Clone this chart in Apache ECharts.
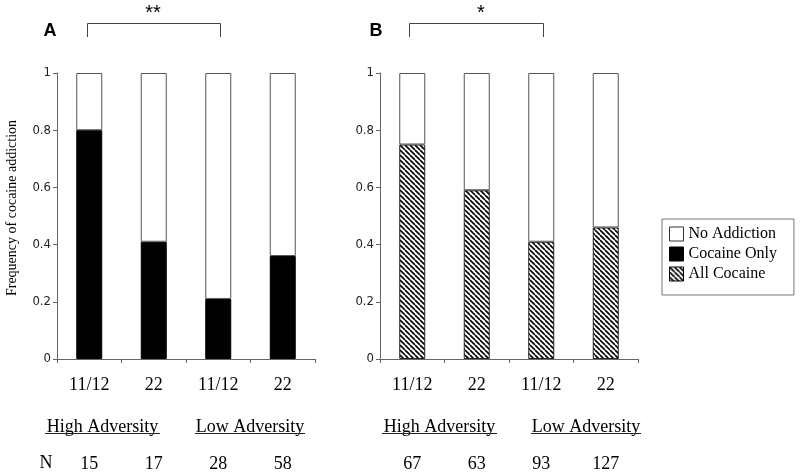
<!DOCTYPE html>
<html>
<head>
<meta charset="utf-8">
<script src="https://cdn.jsdelivr.net/npm/echarts@6/dist/echarts.min.js"></script>
<style>
html,body{margin:0;padding:0;background:#fff;}
#chart{width:800px;height:473px;}
</style>
</head>
<body>
<div id="chart"></div>
<script>
// ---- data ----
var categories = ['11/12', '22', '11/12', '22'];
var cocaineOnly = [0.80, 0.41, 0.21, 0.36];
var noAddictionA = [0.20, 0.59, 0.79, 0.64];
var allCocaine = [0.75, 0.59, 0.41, 0.46];
var noAddictionB = [0.25, 0.41, 0.59, 0.54];
var nA = ['15', '17', '28', '58'];
var nB = ['67', '63', '93', '127'];
var yTicks = [0, 0.2, 0.4, 0.6, 0.8, 1];

// hatch pattern
var s = 5;
var cv = document.createElement('canvas');
cv.width = s; cv.height = s;
var cx = cv.getContext('2d');
cx.fillStyle = '#fff';
cx.fillRect(0, 0, s, s);
cx.strokeStyle = '#000';
cx.lineWidth = 1.6;
for (var k = -1; k <= 1; k++) {
  cx.beginPath();
  cx.moveTo(k * s, 0);
  cx.lineTo(k * s + s, s);
  cx.stroke();
}
var hatch = { image: cv, repeat: 'repeat' };

var serif = "'Liberation Serif', 'Times New Roman', serif";
var narrow = "'Liberation Sans Narrow', 'DejaVu Sans Condensed', 'Liberation Sans', sans-serif";
var axisGray = '#666';
var barBorder = '#555';

function xCat(gi) {
  return {
    type: 'category', gridIndex: gi, data: categories, boundaryGap: true,
    axisLine: { lineStyle: { color: axisGray, width: 1 } },
    axisTick: { show: true, length: 4, lineStyle: { color: axisGray } },
    axisLabel: { color: '#000', fontFamily: serif, fontSize: 18, margin: 17 }
  };
}
function xN(gi, arr) {
  return {
    type: 'category', gridIndex: gi, data: arr, position: 'bottom', offset: 96,
    axisLine: { show: false }, axisTick: { show: false },
    axisLabel: { color: '#000', fontFamily: serif, fontSize: 18, margin: 0 }
  };
}
function yAx(gi) {
  return {
    type: 'value', gridIndex: gi, min: 0, max: 1, interval: 0.2,
    splitLine: { show: false },
    axisLine: { show: true, lineStyle: { color: axisGray, width: 1 } },
    axisTick: { show: true, length: 4, lineStyle: { color: axisGray } },
    axisLabel: {
      color: '#222', fontFamily: narrow, fontSize: 13, margin: 6,
      formatter: function (v) { return yTicks.indexOf(v) >= 0 ? String(v) : ''; }
    }
  };
}

var option = {
  animation: false,
  backgroundColor: '#fff',
  grid: [
    { left: 57, top: 73, width: 258, height: 286 },
    { left: 380, top: 73, width: 258, height: 286 }
  ],
  xAxis: [xCat(0), xCat(1), xN(0, nA), xN(1, nB)],
  yAxis: [yAx(0), yAx(1)],
  legend: {
    orient: 'vertical', left: 662, top: 219,
    icon: 'rect', itemWidth: 14, itemHeight: 14, itemGap: 4, itemTextGap: 6,
    padding: [7, 17, 13, 7],
    borderColor: '#777', borderWidth: 1, backgroundColor: '#fff',
    selectedMode: false,
    textStyle: { color: '#000', fontFamily: serif, fontSize: 16 },
    data: [
      { name: 'No Addiction', itemStyle: { color: '#fff', borderColor: '#333', borderWidth: 1 } },
      { name: 'Cocaine Only', itemStyle: { color: '#000', borderColor: '#000', borderWidth: 1 } },
      { name: 'All Cocaine', itemStyle: { color: hatch, borderColor: '#000', borderWidth: 1 } }
    ]
  },
  series: [
    {
      name: 'Cocaine Only', type: 'bar', xAxisIndex: 0, yAxisIndex: 0, stack: 'a',
      barWidth: 26, data: cocaineOnly,
      itemStyle: { color: '#000', borderColor: '#000', borderWidth: 1 }
    },
    {
      name: 'No Addiction', type: 'bar', xAxisIndex: 0, yAxisIndex: 0, stack: 'a',
      barWidth: 26, data: noAddictionA,
      itemStyle: { color: '#fff', borderColor: barBorder, borderWidth: 1 }
    },
    {
      name: 'All Cocaine', type: 'bar', xAxisIndex: 1, yAxisIndex: 1, stack: 'b',
      barWidth: 26, data: allCocaine,
      itemStyle: { color: hatch, borderColor: '#222', borderWidth: 1 }
    },
    {
      name: 'No Addiction', type: 'bar', xAxisIndex: 1, yAxisIndex: 1, stack: 'b',
      barWidth: 26, data: noAddictionB,
      itemStyle: { color: '#fff', borderColor: barBorder, borderWidth: 1 }
    }
  ],
  graphic: [
    { type: 'text', x: 12, y: 208, rotation: Math.PI / 2,
      style: { text: 'Frequency of cocaine addiction', fontFamily: serif, fontSize: 14, fill: '#000', align: 'center', verticalAlign: 'middle' } },
    { type: 'text', x: 50, y: 31, style: { text: 'A', fontFamily: "'Liberation Sans', Arial, sans-serif", fontWeight: 'bold', fontSize: 18, fill: '#000', align: 'center', verticalAlign: 'middle' } },
    { type: 'text', x: 376, y: 31, style: { text: 'B', fontFamily: "'Liberation Sans', Arial, sans-serif", fontWeight: 'bold', fontSize: 18, fill: '#000', align: 'center', verticalAlign: 'middle' } },
    { type: 'text', x: 153, y: 13, style: { text: '**', fontFamily: "'Liberation Sans', Arial, sans-serif", fontSize: 20, fill: '#000', align: 'center', verticalAlign: 'middle' } },
    { type: 'text', x: 481, y: 13, style: { text: '*', fontFamily: "'Liberation Sans', Arial, sans-serif", fontSize: 20, fill: '#000', align: 'center', verticalAlign: 'middle' } },
    { type: 'polyline', shape: { points: [[87.5, 37], [87.5, 23.5], [220.5, 23.5], [220.5, 37]] }, style: { stroke: '#444', lineWidth: 1, fill: null } },
    { type: 'polyline', shape: { points: [[409.5, 37], [409.5, 23.5], [543.5, 23.5], [543.5, 37]] }, style: { stroke: '#444', lineWidth: 1, fill: null } },
    { type: 'text', x: 102.5, y: 427, style: { text: 'High Adversity', fontFamily: serif, fontSize: 18, fill: '#000', align: 'center', verticalAlign: 'middle' } },
    { type: 'text', x: 250, y: 427, style: { text: 'Low Adversity', fontFamily: serif, fontSize: 18, fill: '#000', align: 'center', verticalAlign: 'middle' } },
    { type: 'text', x: 439.5, y: 427, style: { text: 'High Adversity', fontFamily: serif, fontSize: 18, fill: '#000', align: 'center', verticalAlign: 'middle' } },
    { type: 'text', x: 586, y: 427, style: { text: 'Low Adversity', fontFamily: serif, fontSize: 18, fill: '#000', align: 'center', verticalAlign: 'middle' } },
    { type: 'line', shape: { x1: 45, y1: 433.5, x2: 160, y2: 433.5 }, style: { stroke: '#222', lineWidth: 1 } },
    { type: 'line', shape: { x1: 195, y1: 433.5, x2: 305, y2: 433.5 }, style: { stroke: '#222', lineWidth: 1 } },
    { type: 'line', shape: { x1: 382, y1: 433.5, x2: 497, y2: 433.5 }, style: { stroke: '#222', lineWidth: 1 } },
    { type: 'line', shape: { x1: 531, y1: 433.5, x2: 641, y2: 433.5 }, style: { stroke: '#222', lineWidth: 1 } },
    { type: 'text', x: 46, y: 463, style: { text: 'N', fontFamily: serif, fontSize: 18, fill: '#000', align: 'center', verticalAlign: 'middle' } }
  ]
};

var chart = echarts.init(document.getElementById('chart'), null, { renderer: 'canvas' });
chart.setOption(option);
</script>
</body>
</html>
